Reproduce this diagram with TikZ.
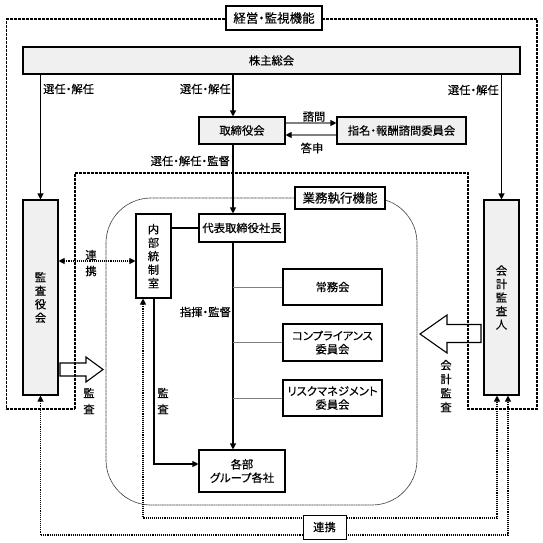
\documentclass[tikz,border=0pt]{standalone}
\usepackage{fontspec}
\setmainfont{Noto Sans CJK JP}[RawFeature=+palt, FakeBold=0.25]
\usetikzlibrary{arrows.meta}
\newcommand\fsz{\fontsize{11.3pt}{13.5pt}\selectfont}
\newcommand\fszv{\fontsize{11.3pt}{16pt}\selectfont}
\newcommand\fszw{\fontsize{11.3pt}{14pt}\selectfont}
\newcommand\fszt{\fontsize{12.5pt}{14pt}\selectfont}
\begin{document}
\begin{tikzpicture}[x=1pt,y=-1pt,
  box/.style={draw, line width=1.1pt, inner sep=0pt, align=center, font=\fsz, fill=white},
  gbox/.style={box, fill=black!6},
  arr/.style={line width=1.1pt, -{Triangle[length=6pt,width=6pt]}},
  garr/.style={line width=1.1pt, black!50, -{Triangle[length=6pt,width=6pt,black]}},
  lbl/.style={inner sep=0pt, font=\fsz},
  vlbl/.style={inner sep=0pt, align=center, font=\fszv},
  dotl/.style={line width=1.1pt, densely dotted},
  dtip/.style={{Triangle[length=6pt,width=6pt]}-{Triangle[length=6pt,width=6pt]}},
  frame/.style={line width=1.1pt, dash pattern=on 3pt off 1pt},
  fnline/.style={line width=0.7pt, black!75, dash pattern=on 1pt off 0.4pt},
  gline/.style={line width=1pt, black!50},
  hollow/.style={draw, line width=1.1pt}]
\useasboundingbox (0,0) rectangle (542,543);

% frames
\draw[frame] (75,409) -- (75,173) -- (468,173) -- (468,409) -- (537,409) -- (537,19) -- (6.7,19) -- (6.7,409) -- cycle;
\draw[fnline, rounded corners=45pt] (106,198) rectangle (417,505);

% hollow arrows
\draw[hollow] (60,363) -- (86,363) -- (86,357) -- (103,369.5) -- (86,382) -- (86,376) -- (60,376) -- cycle;
\draw[hollow] (481,324.5) -- (447,324.5) -- (447,315) -- (420,334) -- (447,353) -- (447,342.5) -- (481,342.5) -- cycle;

% nodes
\node[box, font=\fszt, minimum width=96pt, minimum height=24pt] (t1) at (274,18) {経営・監視機能};
\node[gbox, minimum width=497pt, minimum height=27pt] (sh) at (271.5,60.5) {株主総会};
\node[gbox, minimum width=86pt, minimum height=27pt] (tori) at (242,130.5) {取締役会};
\node[gbox, minimum width=129pt, minimum height=27pt] (shimei) at (401.5,130.5) {指名・報酬諮問委員会};
\node[gbox, minimum width=35pt, minimum height=195pt] (kansa) at (40.5,297.5) {監\\査\\役\\会};
\node[gbox, minimum width=35pt, minimum height=195pt] (kaikei) at (501.5,297.5) {会\\計\\監\\査\\人};
\node[box, font=\fszt, minimum width=90pt, minimum height=22pt] (t2) at (340,198) {業務執行機能};
\node[box, minimum width=86pt, minimum height=28pt] (daihyo) at (242,228) {代表取締役社長};
\node[box, minimum width=35pt, minimum height=84pt] (naibu) at (153.5,256) {内\\部\\統\\制\\室};
\node[box, minimum width=99pt, minimum height=36pt] (jomu) at (332.5,287) {常務会};
\node[box, minimum width=99pt, minimum height=37pt] (comp) at (332.5,342.5) {コンプライアンス\\委員会};
\node[box, minimum width=99pt, minimum height=36pt] (risk) at (332.5,398) {リスクマネジメント\\委員会};
\node[box, minimum width=86pt, minimum height=42pt] (kakubu) at (242,471) {各部\\グループ各社};

% labels
\node[lbl, anchor=west] (l1) at (43,89) {選任・解任};
\node[lbl, anchor=east] (l2) at (231,89) {選任・解任};
\node[lbl, anchor=east] (l3) at (499,90) {選任・解任};
\node[lbl, anchor=east] (l4) at (230,161) {選任・解任・監督};
\node[lbl] (l5) at (314,116.5) {諮問};
\node[lbl] (l6) at (312,148) {答申};
\node[lbl, anchor=east] (l7) at (231,312) {指揮・監督};
\node[vlbl] (l8) at (91,263) {連\\携};
\node[vlbl] (l9) at (163,401) {監\\査};
\node[vlbl] (l10) at (89,401) {監\\査};
\node[vlbl, font=\fszw] (l11) at (446,386) {会\\計\\監\\査};

% coordinates
\coordinate (mx) at (233,0);
\coordinate (ax) at (154,464);
\coordinate (p1) at (143,518);
\coordinate (q1) at (497,518);
\coordinate (p2) at (40.5,535);
\coordinate (q2) at (508,535);
\coordinate (sk) at (0,123);
\coordinate (tk) at (0,135);
\coordinate (rk) at (0,261);

% connectors
\draw[arr] (sh.south -| kansa.north) -- (kansa.north);
\draw[arr] (sh.south -| kaikei.north) -- (kaikei.north);
\draw[arr] (sh.south -| mx) -- (tori.north -| mx);
\draw[arr] (tori.south -| mx) -- (daihyo.north -| mx);
\draw[arr] (daihyo.south -| mx) -- (kakubu.north -| mx);
\draw[garr] (tori.east |- sk) -- (shimei.west |- sk);
\draw[garr] (shimei.west |- tk) -- (tori.east |- tk);
\draw[gline] (jomu.west -| mx) -- (jomu.west);
\draw[gline] (comp.west -| mx) -- (comp.west);
\draw[gline] (risk.west -| mx) -- (risk.west);
\draw[line width=1.5pt] (naibu.east |- daihyo.west) -- (daihyo.west);
\draw[arr] (naibu.south -| ax) |- (kakubu.west |- ax);
\draw[dotl, dtip] (kansa.east |- rk) -- (naibu.west |- rk);
\draw[dotl, dtip] (naibu.south -| p1) -- (p1) -- (q1) -- (kaikei.south -| q1);
\draw[dotl, dtip] (kansa.south) -- (p2) -- (q2) -- (kaikei.south -| q2);
\node[box, line width=0.9pt, minimum width=43pt, minimum height=24pt] (renkei) at (324.5,527) {連携};
\end{tikzpicture}
\end{document}
